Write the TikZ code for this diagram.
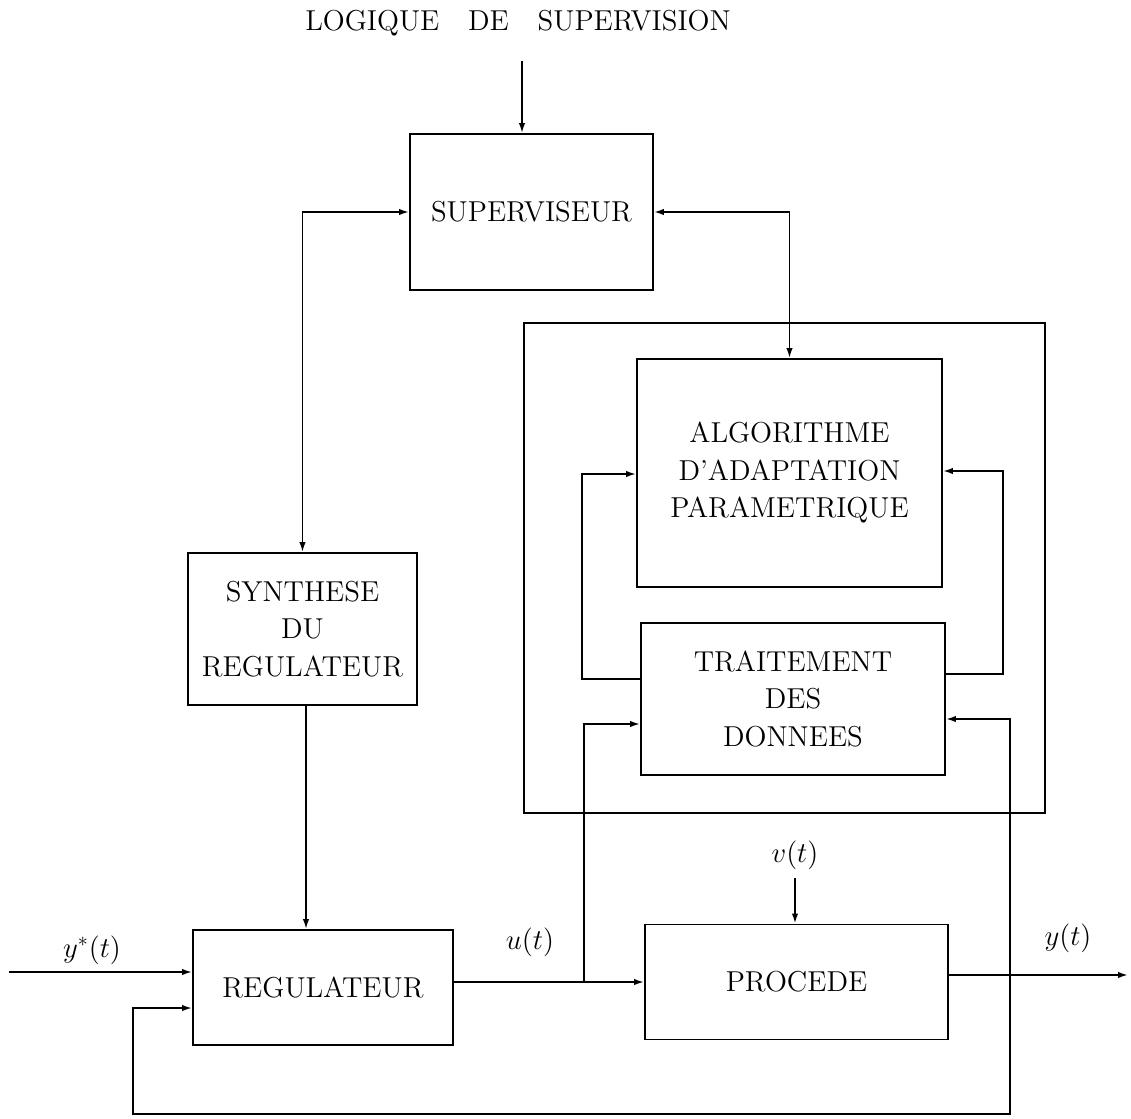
\documentclass[tikz,border=0pt]{standalone}
\usetikzlibrary{arrows.meta,calc}
\begin{document}
\begin{tikzpicture}[x=0.5pt,y=-0.5pt,
  box/.style={draw, line width=0.9pt, inner sep=0pt, align=center, font=\fontsize{14.4}{18.75}\selectfont},
  lbl/.style={inner sep=0pt, font=\fontsize{14.4}{18}\selectfont},
  conn/.style={line width=0.9pt},
  arr/.style={conn, -{Latex[length=5pt,width=3.2pt]}},
  darr/.style={conn, {Latex[length=5pt,width=3.2pt]}-{Latex[length=5pt,width=3.2pt]}}]
\useasboundingbox (0,0) rectangle (1131,1119);

% title
\node[lbl] (title) at (518,23) {LOGIQUE\hspace{1em}DE\hspace{1em}SUPERVISION};

% boxes
\node[box, minimum width=121.5pt, minimum height=78pt] (sup) at (531.5,212) {SUPERVISEUR};
\node[draw, line width=0.9pt, inner sep=0pt, minimum width=260.5pt, minimum height=245pt] (outer) at (784.5,568) {};
\node[box, minimum width=152.5pt, minimum height=114pt] (algo) at (789.5,473) {ALGORITHME\\D'ADAPTATION\\PARAMETRIQUE};
\node[box, minimum width=152pt, minimum height=76pt] (trait) at (793,699) {TRAITEMENT\\DES\\DONNEES};
\node[box, minimum width=114.5pt, minimum height=76pt] (syn) at (302.5,629) {SYNTHESE\\DU\\REGULATEUR};
\node[box, minimum width=130pt, minimum height=57.5pt] (reg) at (323,987.5) {REGULATEUR};
\node[box, minimum width=151.5pt, minimum height=57.5pt] (proc) at (796.5,982) {PROCEDE};

% labels
\node[lbl] (ystar) at (92,950) {$y^*(t)$};
\node[lbl] (ul) at (530,942) {$u(t)$};
\node[lbl] (vt) at (795,855) {$v(t)$};
\node[lbl] (yl) at (1068,938) {$y(t)$};

% coordinates
\coordinate (tin) at (522,61);
\coordinate (ll) at (582,679);
\coordinate (lt) at (582,474);
\coordinate (rl) at (1003,674);
\coordinate (rt) at (1003,471);
\coordinate (ju) at (584,982);
\coordinate (ut) at (584,724);
\coordinate (jy) at (1010,975);
\coordinate (yt) at (1010,719);
\coordinate (outend) at (1128,975);
\coordinate (fb1) at (1010,1114);
\coordinate (fb2) at (133,1114);
\coordinate (fb3) at (133,1008);
\coordinate (ys) at (9,972);
\coordinate (sr) at (306,705);
\coordinate (vin) at (795,878);

% connectors
\draw[arr] (tin) -- (tin |- sup.north);
\draw[darr] (sup.west) -| (syn.north);
\draw[darr] (sup.east) -| (algo.north);
\draw[arr] (ll -| trait.west) -- (ll) -- (lt) -- (lt -| algo.west);
\draw[arr] (rl -| trait.east) -- (rl) -- (rt) -- (rt -| algo.east);
\draw[arr] (ju -| reg.east) -- (ju -| proc.west);
\draw[arr] (ju) -- (ut) -- (ut -| trait.west);
\draw[arr] (jy -| proc.east) -- (outend);
\draw[arr] (jy) -- (yt) -- (yt -| trait.east);
\draw[arr] (jy) -- (fb1) -- (fb2) -- (fb3) -- (fb3 -| reg.west);
\draw[arr] (ys) -- (ys -| reg.west);
\draw[arr] (sr |- syn.south) -- (sr |- reg.north);
\draw[arr] (vin) -- (vin |- proc.north);
\end{tikzpicture}
\end{document}
